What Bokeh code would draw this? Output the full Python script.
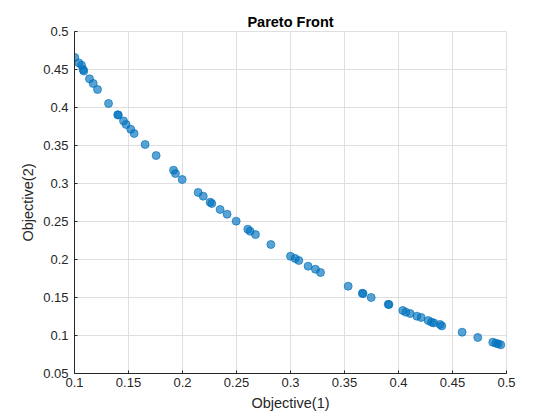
from bokeh.plotting import figure
from bokeh.models import FixedTicker, Range1d, ColumnDataSource
from bokeh.embed import file_html
from bokeh.resources import INLINE

obj1 = [0.1003, 0.1040, 0.1065, 0.1080, 0.1086, 0.1139, 0.1173, 0.1213, 0.1315, 0.1400,
        0.1406, 0.1454, 0.1478, 0.1521, 0.1552, 0.1654, 0.1756, 0.1917, 0.1935, 0.1997,
        0.2145, 0.2192, 0.2256, 0.2271, 0.2348, 0.2413, 0.2497, 0.2605, 0.2626, 0.2676,
        0.2818, 0.3000, 0.3043, 0.3077, 0.3163, 0.3231, 0.3278, 0.3534, 0.3665, 0.3672,
        0.3747, 0.3905, 0.3912, 0.4040, 0.4068, 0.4108, 0.4170, 0.4210, 0.4275, 0.4306,
        0.4327, 0.4385, 0.4401, 0.4589, 0.4734, 0.4873, 0.4900, 0.4922, 0.4947]
obj2 = [0.4658, 0.4587, 0.4557, 0.4500, 0.4480, 0.4377, 0.4316, 0.4237, 0.4053, 0.3905,
        0.3900, 0.3824, 0.3776, 0.3714, 0.3658, 0.3513, 0.3368, 0.3175, 0.3131, 0.3053,
        0.2882, 0.2833, 0.2754, 0.2737, 0.2658, 0.2596, 0.2504, 0.2399, 0.2372, 0.2328,
        0.2197, 0.2043, 0.2013, 0.1987, 0.1912, 0.1872, 0.1829, 0.1649, 0.1556, 0.1551,
        0.1500, 0.1410, 0.1407, 0.1329, 0.1307, 0.1289, 0.1254, 0.1237, 0.1197, 0.1175,
        0.1166, 0.1145, 0.1126, 0.1043, 0.0974, 0.0912, 0.0899, 0.0890, 0.0877]

x_ticks = [0.1, 0.15, 0.2, 0.25, 0.3, 0.35, 0.4, 0.45, 0.5]
x_tick_labels = ["0.1", "0.15", "0.2", "0.25", "0.3", "0.35", "0.4", "0.45", "0.5"]
y_ticks = [0.05, 0.1, 0.15, 0.2, 0.25, 0.3, 0.35, 0.4, 0.45, 0.5]
y_tick_labels = ["0.05", "0.1", "0.15", "0.2", "0.25", "0.3", "0.35", "0.4", "0.45", "0.5"]

FONT = "Liberation Sans"
DARK = "#262626"
GRID = "#dfdfdf"

p = figure(width=560, height=420, output_backend="svg", toolbar_location=None,
           x_range=Range1d(0.1, 0.5), y_range=Range1d(0.05, 0.5),
           min_border_left=74, min_border_right=54, min_border_top=31, min_border_bottom=47)

p.title.text = "Pareto Front"
p.title.align = "center"
p.title.text_font = FONT
p.title.text_font_size = "14.5px"
p.title.text_font_style = "bold"
p.title.text_color = "#000000"
p.title.standoff = 3

src = ColumnDataSource(dict(x=obj1, y=obj2))
p.scatter("x", "y", source=src, size=8, fill_color="#0072BD", fill_alpha=0.65,
          line_color="#0072BD", line_alpha=0.65, line_width=1)

p.xaxis.ticker = FixedTicker(ticks=x_ticks)
p.yaxis.ticker = FixedTicker(ticks=y_ticks)
p.xaxis.major_label_overrides = {t: l for t, l in zip(x_ticks, x_tick_labels)}
p.yaxis.major_label_overrides = {t: l for t, l in zip(y_ticks, y_tick_labels)}

for ax in (p.xaxis[0], p.yaxis[0]):
    ax.axis_line_color = DARK
    ax.axis_line_width = 1
    ax.major_tick_line_color = DARK
    ax.major_tick_in = 3
    ax.major_tick_out = 0
    ax.minor_tick_line_color = None
    ax.major_label_text_font = FONT
    ax.major_label_text_font_size = "13px"
    ax.major_label_text_color = DARK
    ax.axis_label_text_font = FONT
    ax.axis_label_text_font_size = "14.5px"
    ax.axis_label_text_font_style = "normal"
    ax.axis_label_text_color = DARK

p.xaxis.axis_label = "Objective(1)"
p.yaxis.axis_label = "Objective(2)"
p.xaxis.major_label_standoff = 4
p.xaxis.axis_label_standoff = 5
p.yaxis.major_label_standoff = 6
p.yaxis.axis_label_standoff = 4

p.grid.grid_line_color = GRID
p.grid.grid_line_width = 1
p.outline_line_color = GRID
p.outline_line_width = 1
p.background_fill_color = "white"
p.border_fill_color = "white"

open("out.html", "w").write(file_html(p, INLINE))
